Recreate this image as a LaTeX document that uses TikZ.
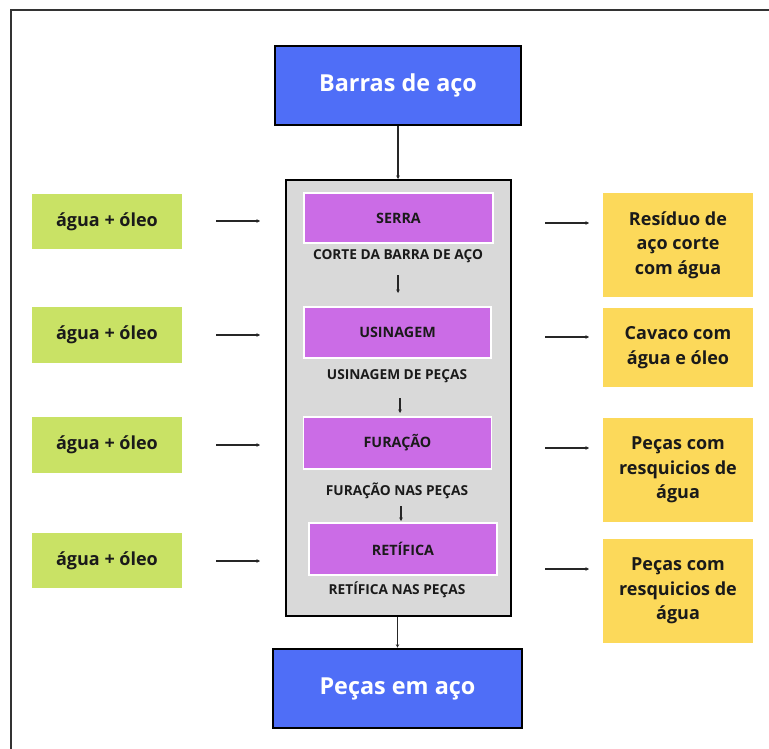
\documentclass[tikz,border=0pt]{standalone}
\usepackage{fontspec}
\setmainfont{Open Sans}
\usetikzlibrary{arrows.meta}
\definecolor{bluebox}{HTML}{4F6EF7}
\definecolor{purplebox}{HTML}{CB6CE6}
\definecolor{greenbox}{HTML}{C9E265}
\definecolor{yellowbox}{HTML}{FCD95A}
\definecolor{graybox}{HTML}{D9D9D9}
\definecolor{txt}{HTML}{1A1A1A}
\tikzset{
  endbox/.style={draw=black, line width=2.6pt, fill=bluebox, text=white, inner sep=0pt,
    font=\fontsize{23.4}{28}\selectfont\bfseries},
  stagebox/.style={draw=white, line width=1.2pt, fill=purplebox, text=txt, inner sep=0pt,
    minimum width=188pt, minimum height=51pt, font=\fontsize{14.3}{17}\selectfont\bfseries},
  steplabel/.style={text=txt, inner sep=1pt, font=\fontsize{13.7}{16}\selectfont\bfseries},
  inbox/.style={fill=greenbox, text=txt, inner sep=0pt, minimum width=150pt,
    minimum height=56pt, font=\fontsize{18}{21}\selectfont\bfseries},
  outbox/.style={fill=yellowbox, text=txt, inner sep=0pt, minimum width=150pt,
    align=center, font=\fontsize{18}{24.5}\selectfont\bfseries},
  arr/.style={draw=black!85, line width=1.1pt, -{Stealth[length=3.5pt,width=3.5pt]}},
}
\begin{document}
\begin{tikzpicture}[x=1pt,y=-1pt]
\useasboundingbox (0,0) rectangle (769,749);
\fill[white] (0,0) rectangle (769,749);
% frame
\draw[black!80, line width=2pt] (11,749) -- (11,10) -- (769,10);

% main column
\node[endbox, minimum width=246pt, minimum height=79pt] (top) at (398,85.5) {Barras de aço};
\node[draw=black, line width=2pt, fill=graybox, minimum width=225pt, minimum height=436pt, inner sep=0pt] (gray) at (398.5,398) {};
\node[endbox, minimum width=249pt, minimum height=79pt] (bot) at (397.5,688.5) {Peças em aço};

\node[stagebox, minimum width=189pt, minimum height=50pt] (serra) at (398.5,218) {SERRA};
\node[steplabel] (l1) at (398,256) {CORTE DA BARRA DE AÇO};
\node[stagebox, minimum width=187pt] (usin) at (397.5,332.5) {USINAGEM};
\node[steplabel] (l2) at (397,376) {USINAGEM DE PEÇAS};
\node[stagebox, minimum height=52pt] (fur) at (397.5,443) {FURAÇÃO};
\node[steplabel] (l3) at (397,491) {FURAÇÃO NAS PEÇAS};
\node[stagebox, minimum height=52pt] (ret) at (403,549) {RETÍFICA};
\node[steplabel] (l4) at (397,590) {RETÍFICA NAS PEÇAS};

\draw[arr] (top.south) -- (top.south |- gray.north);
\draw[arr] (gray.south -| bot.north) -- (bot.north);

\coordinate (s1a) at (398,275); \coordinate (s1b) at (398,293);
\coordinate (s2a) at (400,398); \coordinate (s2b) at (400,413);
\coordinate (s3a) at (401,506); \coordinate (s3b) at (401,521);
\draw[arr] (s1a) -- (s1b);
\draw[arr] (s2a) -- (s2b);
\draw[arr] (s3a) -- (s3b);

% inputs
\node[inbox, minimum height=55pt] (in1) at (107,221.5) {água + óleo};
\node[inbox] (in2) at (107,335) {água + óleo};
\node[inbox] (in3) at (107,445) {água + óleo};
\node[inbox, minimum height=55pt] (in4) at (107,560.5) {água + óleo};

\foreach \y/\n in {221/1,335/2,445/3,561/4}{
  \coordinate (ia\n) at (216,\y); \coordinate (ib\n) at (260,\y);
  \draw[arr] (ia\n) -- (ib\n);
}

% outputs
\node[outbox, minimum height=104pt] (out1) at (678,245) {Resíduo de\\aço corte\\com água};
\node[outbox, minimum height=79pt] (out2) at (678,347.5) {Cavaco com\\água e óleo};
\node[outbox, minimum height=104pt] (out3) at (678,470) {Peças com\\resquicios de\\água};
\node[outbox, minimum height=104pt] (out4) at (678,591) {Peças com\\resquicios de\\água};

\foreach \y/\n in {223/1,337/2,448/3,569/4}{
  \coordinate (oa\n) at (545,\y); \coordinate (ob\n) at (589,\y);
  \draw[arr] (oa\n) -- (ob\n);
}
\end{tikzpicture}
\end{document}
